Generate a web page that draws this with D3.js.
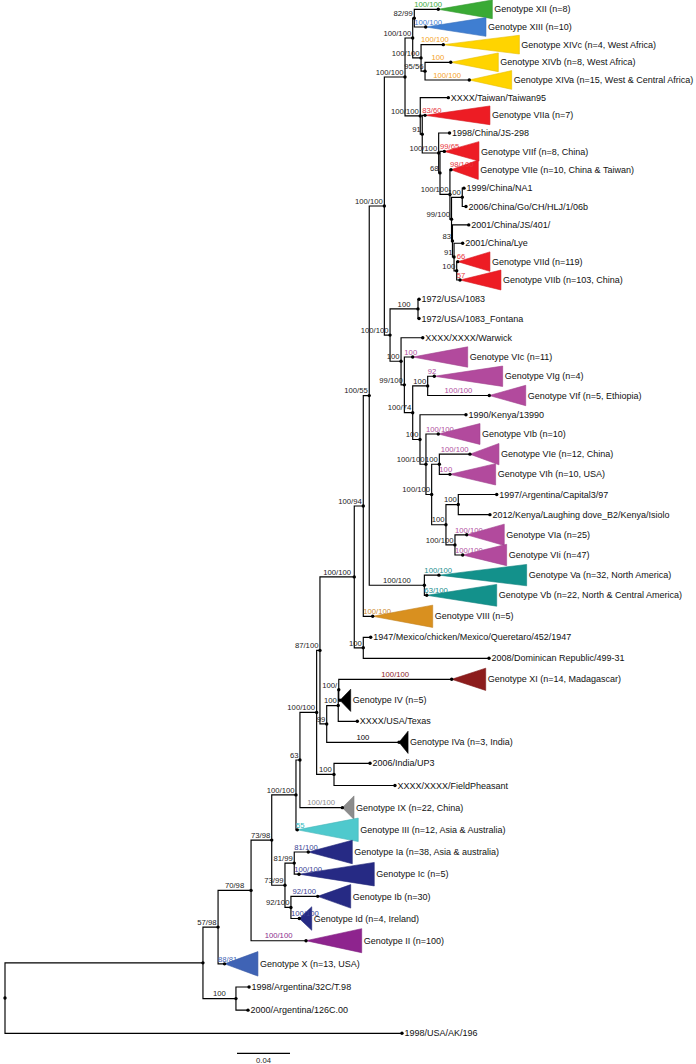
<!DOCTYPE html>
<html><head><meta charset="utf-8">
<script src="https://cdn.jsdelivr.net/npm/d3@7"></script>
<style>
body{margin:0;background:#fff}
svg{display:block}
text{font-family:"Liberation Sans",Arial,Helvetica,sans-serif}
</style>
</head><body>
<svg id="c" width="696" height="1064"></svg>
<script>
// ---------------- DATA ----------------
// Tree: [id, parent id, distance from root (substitutions/site), support value]
// Rows are listed top-to-bottom so that children keep the drawing order.
const nodeRows = [
  ["root", null, 0, ""],
  ["n203", "root", 0.1494, ""],
  ["n57", "n203", 0.1608, "57/98"],
  ["n70", "n57", 0.1857, "70/98"],
  ["n73a", "n70", 0.2013, "73/98"],
  ["n100g", "n73a", 0.2196, "100/100"],
  ["n63", "n100g", 0.2226, "63"],
  ["n100f", "n63", 0.2352, "100/100"],
  ["n87", "n100f", 0.2377, "87/100"],
  ["n100e", "n87", 0.2636, "100/100"],
  ["n94", "n100e", 0.2704, "100/94"],
  ["n55", "n94", 0.2749, "100/55"],
  ["n100d", "n55", 0.2863, "100/100"],
  ["n100c", "n100d", 0.3019, "100/100"],
  ["n100b", "n100c", 0.3077, "100/100"],
  ["n82", "n100b", 0.3089, "82/99"],
  ["Genotype XII (n=8)", "n82", 0.3270, "100/100"],
  ["Genotype XIII (n=10)", "n82", 0.3175, "100/100"],
  ["n14", "n100b", 0.3140, "100/100"],
  ["Genotype XIVc (n=4, West Africa)", "n14", 0.3308, "100/100"],
  ["n95", "n14", 0.3170, "95/56"],
  ["Genotype XIVb (n=8, West Africa)", "n95", 0.3364, "100"],
  ["Genotype XIVa (n=15, West & Central Africa)", "n95", 0.3504, "100/100"],
  ["n7", "n100c", 0.3134, "100/100"],
  ["XXXX/Taiwan/Taiwan95", "n7", 0.3346, ""],
  ["n91a", "n7", 0.3149, "91"],
  ["Genotype VIIa (n=7)", "n91a", 0.3170, "83/60"],
  ["n7b", "n91a", 0.3273, "100/100"],
  ["1998/China/JS-298", "n7b", 0.3355, ""],
  ["n68", "n7b", 0.3283, "68"],
  ["Genotype VIIf (n=8, China)", "n68", 0.3316, "99/65"],
  ["n7c", "n68", 0.3358, "100/100"],
  ["Genotype VIIe (n=10, China & Taiwan)", "n7c", 0.3366, "98/100"],
  ["n99", "n7c", 0.3370, "99/100"],
  ["n7na", "n99", 0.3451, "100"],
  ["1999/China/NA1", "n7na", 0.3464, ""],
  ["2006/China/Go/CH/HLJ/1/06b", "n7na", 0.3479, ""],
  ["n83", "n99", 0.3377, "83"],
  ["2001/China/JS/401/", "n83", 0.3500, ""],
  ["n91b", "n83", 0.3389, "91"],
  ["2001/China/Lye", "n91b", 0.3454, ""],
  ["n7db", "n91b", 0.3409, "100"],
  ["Genotype VIId (n=119)", "n7db", 0.3417, "66"],
  ["Genotype VIIb (n=103, China)", "n7db", 0.3434, "57"],
  ["n6", "n100d", 0.2906, "100/100"],
  ["n1083", "n6", 0.3117, "100"],
  ["1972/USA/1083", "n1083", 0.3125, ""],
  ["1972/USA/1083_Fontana", "n1083", 0.3125, ""],
  ["n6a", "n6", 0.2989, "100"],
  ["XXXX/XXXX/Warwick", "n6a", 0.3153, ""],
  ["n6b", "n6a", 0.3014, "99/100"],
  ["Genotype VIc (n=11)", "n6b", 0.3077, "100"],
  ["n74", "n6b", 0.3077, "100/74"],
  ["n6gf", "n74", 0.3190, "100"],
  ["Genotype VIg (n=4)", "n6gf", 0.3240, "92"],
  ["Genotype VIf (n=5, Ethiopia)", "n6gf", 0.3655, "100/100"],
  ["n6c", "n74", 0.3132, "100"],
  ["1990/Kenya/13990", "n6c", 0.3479, ""],
  ["n6d", "n6c", 0.3177, "100/100"],
  ["Genotype VIb (n=10)", "n6d", 0.3270, "100/100"],
  ["n6e", "n6d", 0.3220, "100/100"],
  ["n6eh", "n6e", 0.3278, "100"],
  ["Genotype VIe (n=12, China)", "n6eh", 0.3509, "100/100"],
  ["Genotype VIh (n=10, USA)", "n6eh", 0.3358, "100"],
  ["n6f", "n6e", 0.3328, "100"],
  ["n6ak", "n6f", 0.3421, "100"],
  ["1997/Argentina/Capital3/97", "n6ak", 0.3711, ""],
  ["2012/Kenya/Laughing dove_B2/Kenya/Isiolo", "n6ak", 0.3660, ""],
  ["n6ai", "n6f", 0.3396, "100/100"],
  ["Genotype VIa (n=25)", "n6ai", 0.3485, "100/100"],
  ["Genotype VIi (n=47)", "n6ai", 0.3454, "100/100"],
  ["n5", "n55", 0.3165, "100/100"],
  ["Genotype Va (n=32, North America)", "n5", 0.3275, "100/100"],
  ["Genotype Vb (n=22, North & Central America)", "n5", 0.3183, "63/100"],
  ["Genotype VIII (n=5)", "n94", 0.2775, "100/100"],
  ["nmx", "n100e", 0.2704, "100"],
  ["1947/Mexico/chicken/Mexico/Queretaro/452/1947", "nmx", 0.2760, ""],
  ["2008/Dominican Republic/499-31", "nmx", 0.3653, ""],
  ["n99b", "n87", 0.2428, "99"],
  ["n4b", "n99b", 0.2515, "100"],
  ["n4a", "n4b", 0.2519, "100/"],
  ["Genotype XI (n=14, Madagascar)", "n4a", 0.3371, "100/100"],
  ["Genotype IV (n=5)", "n4a", 0.2528, ""],
  ["XXXX/USA/Texas", "n4b", 0.2659, ""],
  ["Genotype IVa (n=3, India)", "n99b", 0.2974, "100"],
  ["nind", "n100f", 0.2483, "100"],
  ["2006/India/UP3", "nind", 0.2755, ""],
  ["XXXX/XXXX/FieldPheasant", "nind", 0.2943, ""],
  ["Genotype IX (n=22, China)", "n63", 0.2546, "100/100"],
  ["Genotype III (n=12, Asia & Australia)", "n100g", 0.2206, "55"],
  ["n73b", "n73a", 0.2113, "73/99"],
  ["n81", "n73b", 0.2183, "81/99"],
  ["Genotype Ia (n=38, Asia & australia)", "n81", 0.2289, "81/100"],
  ["Genotype Ic (n=5)", "n81", 0.2219, "100/100"],
  ["n92", "n73b", 0.2158, "92/100"],
  ["Genotype Ib (n=30)", "n92", 0.2360, "92/100"],
  ["Genotype Id (n=4, Ireland)", "n92", 0.2221, "100/100"],
  ["Genotype II (n=100)", "n70", 0.2272, "100/100"],
  ["Genotype X (n=13, USA)", "n57", 0.1657, "88/81"],
  ["narg", "n203", 0.1743, "100"],
  ["1998/Argentina/32C/T.98", "narg", 0.1842, ""],
  ["2000/Argentina/126C.00", "narg", 0.1834, ""],
  ["1998/USA/AK/196", "root", 0.2996, ""]
];

// Collapsed clades: [label, distance from root of the deepest member, genotype group]
const clades = [
  ["Genotype XII (n=8)", 0.3678, "XII"],
  ["Genotype XIII (n=10)", 0.3630, "XIII"],
  ["Genotype XIVc (n=4, West Africa)", 0.3882, "XIV"],
  ["Genotype XIVb (n=8, West Africa)", 0.3723, "XIV"],
  ["Genotype XIVa (n=15, West & Central Africa)", 0.3824, "XIV"],
  ["Genotype VIIa (n=7)", 0.3660, "VII"],
  ["Genotype VIIf (n=8, China)", 0.3577, "VII"],
  ["Genotype VIIe (n=10, China & Taiwan)", 0.3572, "VII"],
  ["Genotype VIId (n=119)", 0.3660, "VII"],
  ["Genotype VIIb (n=103, China)", 0.3743, "VII"],
  ["Genotype VIc (n=11)", 0.3492, "VI"],
  ["Genotype VIg (n=4)", 0.3756, "VI"],
  ["Genotype VIf (n=5, Ethiopia)", 0.3930, "VI"],
  ["Genotype VIb (n=10)", 0.3585, "VI"],
  ["Genotype VIe (n=12, China)", 0.3728, "VI"],
  ["Genotype VIh (n=10, USA)", 0.3703, "VI"],
  ["Genotype VIa (n=25)", 0.3768, "VI"],
  ["Genotype VIi (n=47)", 0.3786, "VI"],
  ["Genotype Va (n=32, North America)", 0.3937, "V"],
  ["Genotype Vb (n=22, North & Central America)", 0.3711, "V"],
  ["Genotype VIII (n=5)", 0.3228, "VIII"],
  ["Genotype XI (n=14, Madagascar)", 0.3628, "XI"],
  ["Genotype IV (n=5)", 0.2609, "IV"],
  ["Genotype IVa (n=3, India)", 0.3042, "IV"],
  ["Genotype IX (n=22, China)", 0.2634, "IX"],
  ["Genotype III (n=12, Asia & Australia)", 0.2666, "III"],
  ["Genotype Ia (n=38, Asia & australia)", 0.2621, "I"],
  ["Genotype Ic (n=5)", 0.2787, "I"],
  ["Genotype Ib (n=30)", 0.2609, "I"],
  ["Genotype Id (n=4, Ireland)", 0.2315, "I"],
  ["Genotype II (n=100)", 0.2692, "II"],
  ["Genotype X (n=13, USA)", 0.1909, "X"]
];

const groups = ["XII","XIII","XIV","VII","VI","V","VIII","XI","IV","IX","III","I","II","X"];
const scaleBarValue = 0.04;

// ---------------- STYLE ----------------
const fillColours = ["#3aaa35","#3f7ed1","#ffd400","#ed1c24","#b24a9d","#13918b","#d9901f","#8c1c1c","#000000","#8c8c8c","#4fc9cd","#262a84","#8e248e","#3f63b5"];
const textColours = ["#3aaa35","#3f7ed1","#f5a21e","#e8343a","#b04e9e","#168c8c","#cc8a2c","#8a1a1a","#000000","#8a8a8a","#2fbac0","#3a3f94","#8b2a8c","#4464b4"];
const fill = d3.scaleOrdinal().domain(groups).range(fillColours);
const tcol = d3.scaleOrdinal().domain(groups).range(textColours);

// ---------------- LAYOUT ----------------
const svg = d3.select("#c");
const x = d3.scaleLinear().domain([0, 0.4]).range([5, 535]);
const y = d3.scaleLinear()
  .domain([0, 7, 15, 23, 31, 39, 47, 51])
  .range([9.3, 133, 280, 434, 595.3, 763.3, 940.7, 1033.3]);

const root = d3.stratify().id(d => d[0]).parentId(d => d[1])(nodeRows);
const cladeMap = new Map(clades.map(c => [c[0], c]));
root.leaves().forEach((l, i) => { l.idx = i; l.py = y(i); });
root.eachAfter(n => {
  n.px = x(n.data[2]);
  if (n.children) n.py = (n.children[0].py + n.children[n.children.length - 1].py) / 2;
});

// branches
svg.append("g").selectAll("path")
  .data(root.descendants().filter(n => n.parent))
  .join("path")
  .attr("d", n => `M${n.parent.px},${n.parent.py}V${n.py}H${n.px}`)
  .attr("fill", "none").attr("stroke", "#000").attr("stroke-width", 1.15);

// collapsed clade triangles
const cl = root.leaves().filter(l => cladeMap.has(l.id));
svg.append("g").selectAll("path")
  .data(cl).join("path")
  .attr("d", n => {
    const c = cladeMap.get(n.id);
    const h = (y(n.idx + 0.5) - y(n.idx - 0.5)) / 2 * 1.06;
    const rx = x(c[1]);
    return `M${n.px},${n.py}L${rx},${n.py - h}L${rx},${n.py + h}Z`;
  })
  .attr("fill", n => fill(cladeMap.get(n.id)[2]))
  .attr("stroke", n => d3.color(fill(cladeMap.get(n.id)[2])).darker(0.3))
  .attr("stroke-width", 0.6);

// node dots
svg.append("g").selectAll("circle")
  .data(root.descendants()).join("circle")
  .attr("cx", n => n.px).attr("cy", n => n.py).attr("r", 1.7).attr("fill", "#000");

// tip labels
svg.append("g").selectAll("text")
  .data(root.leaves()).join("text")
  .attr("x", n => cladeMap.has(n.id) ? x(cladeMap.get(n.id)[1]) + 2 : n.px + 2.5)
  .attr("y", n => n.py).attr("dy", "0.35em")
  .attr("font-size", 9).attr("fill", "#111")
  .text(n => n.id);

// support values
svg.append("g").selectAll("text")
  .data(root.descendants().filter(n => n.parent && n.data[3]))
  .join("text")
  .attr("font-size", 7.7)
  .attr("y", n => n.py - 2.3)
  .attr("fill", n => cladeMap.has(n.id) ? tcol(cladeMap.get(n.id)[2]) : "#222")
  .text(n => n.data[3])
  .each(function (n) {
    const w = this.getComputedTextLength();
    const mid = (n.parent.px + n.px) / 2;
    let x0;
    if (cladeMap.has(n.id)) x0 = Math.max(n.parent.px, mid - w / 2);
    else x0 = Math.min(mid + w / 2, n.px - 1.5) - w;
    d3.select(this).attr("x", x0);
  });

// scale bar
const sbY = y(51) + 20;
const sb0 = 0.1751;
svg.append("line")
  .attr("x1", x(sb0)).attr("x2", x(sb0 + scaleBarValue))
  .attr("y1", sbY).attr("y2", sbY)
  .attr("stroke", "#000").attr("stroke-width", 1.2);
svg.append("text")
  .attr("x", (x(sb0) + x(sb0 + scaleBarValue)) / 2).attr("y", sbY + 10)
  .attr("text-anchor", "middle").attr("font-size", 7.7).attr("fill", "#222")
  .text(scaleBarValue);
</script>
</body></html>
